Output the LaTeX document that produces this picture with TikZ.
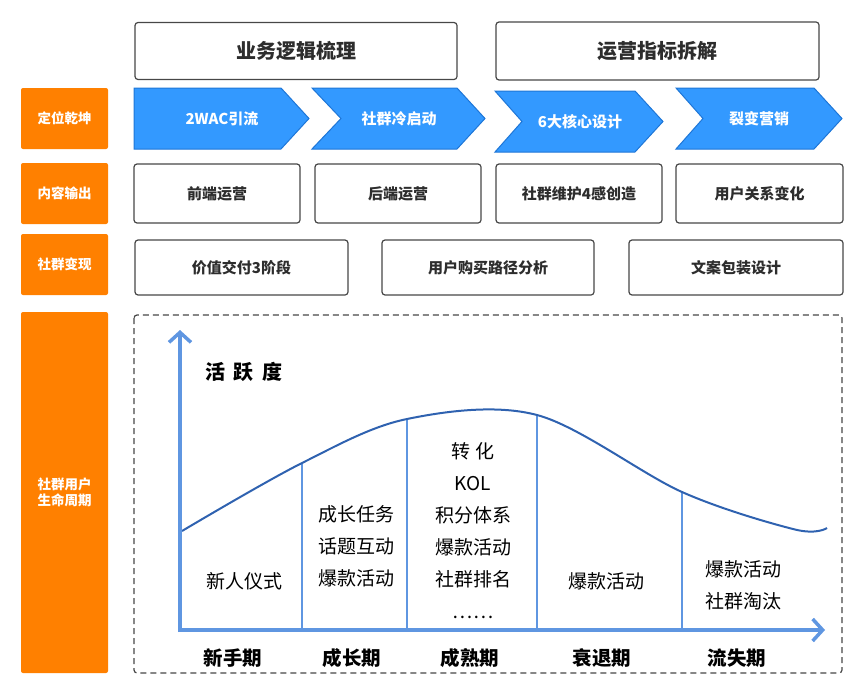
\documentclass[tikz,border=0pt]{standalone}
\usepackage{fontspec}
\setmainfont{Noto Sans CJK SC}
\usetikzlibrary{arrows.meta}
\definecolor{orng}{RGB}{255,128,0}
\definecolor{chev}{RGB}{51,153,255}
\definecolor{chevline}{RGB}{30,118,215}
\definecolor{axisblue}{RGB}{95,150,225}
\definecolor{curveblue}{RGB}{47,98,176}
\definecolor{txt}{RGB}{45,45,45}

\begin{document}
\begin{tikzpicture}[x=1pt,y=-1pt,
    tag/.style={fill=orng,rounded corners=2pt,inner sep=0pt,text=white,align=center,
      font=\bfseries\fontsize{13.5}{16.5}\selectfont},
    box/.style={draw=black!72,line width=1.2pt,rounded corners=3pt,inner sep=0pt,text=txt,
      font=\bfseries\fontsize{15}{18}\selectfont},
    head/.style={box,font=\bfseries\fontsize{20}{24}\selectfont},
    phase/.style={font=\bfseries\fontsize{19.5}{24}\selectfont},
    task/.style={align=center,font=\fontsize{19}{32}\selectfont},
    axis/.style={axisblue,line width=4pt,-{Straight Barb[length=10pt,width=22pt,line width=3.5pt]}}]
  \useasboundingbox (0,0) rectangle (865,696);
  \node[head,minimum width=322pt,minimum height=57pt] (logic) at (296,51) {业务逻辑梳理};
  \node[head,minimum width=323pt,minimum height=58pt] (kpi) at (657.5,51) {运营指标拆解};
  \node[tag,minimum width=87pt,minimum height=61pt] (t1) at (64.5,118.5) {定位乾坤};
  \node[tag,minimum width=87pt,minimum height=61pt] (t2) at (64.5,193.5) {内容输出};
  \node[tag,minimum width=87pt,minimum height=61pt] (t3) at (64.5,264.5) {社群变现};
  \node[tag,minimum width=87pt,minimum height=361pt] (t4) at (64.5,492.5) {社群用户\\生命周期};
  \foreach \l/\n/\s/\dy/\c/\t/\nm in {134/134/281/0/222/2WAC引流/c1,312/341/457/0/399/社群冷启动/c2,
      495/522/635/3/580/6大核心设计/c3,676/703/814/0/759/裂变营销/c4}{
    \draw[fill=chev,draw=chevline,line width=1pt] (\l,88+\dy) -- (\s,88+\dy) -- (\s+28,118.5+\dy)
      -- (\s,149+\dy) -- (\l,149+\dy) -- (\n,118.5+\dy) -- cycle;
    \node[text=white,font=\bfseries\fontsize{15}{18}\selectfont] (\nm) at (\c,119+\dy) {\t};
  }
  \node[box,minimum width=166pt,minimum height=59pt] (b1) at (217,193.5) {前端运营};
  \node[box,minimum width=166pt,minimum height=59pt] (b2) at (398,193.5) {后端运营};
  \node[box,minimum width=166pt,minimum height=59pt] (b3) at (579,193.5) {社群维护4感创造};
  \node[box,minimum width=167pt,minimum height=59pt] (b4) at (759.5,193.5) {用户关系变化};
  \node[box,minimum width=213pt,minimum height=55pt] (v1) at (241.5,267.5) {价值交付3阶段};
  \node[box,minimum width=212pt,minimum height=55pt] (v2) at (488,267.5) {用户购买路径分析};
  \node[box,minimum width=214pt,minimum height=55pt] (v3) at (736,267.5) {文案包装设计};
  \draw[black!72,line width=1.2pt,dash pattern=on 6pt off 4pt,rounded corners=3pt] (134,315) rectangle (842,673);
  \coordinate (p1) at (302,463);
  \coordinate (p2) at (407,419);
  \coordinate (p3) at (537,415);
  \coordinate (p4) at (682,492);
  \foreach \p in {p1,p2,p3,p4}
    \draw[axisblue,line width=2.2pt] (\p) -- (\p |- 0,630);
  \draw[curveblue,line width=2pt] plot[smooth,tension=0.55] coordinates
    {(182,531) (p1) (p2) (p3) (p4) (795,529.5) (827,528)};
  \draw[axis] (180,632) -- (180,330);
  \draw[axis] (178,630) -- (825,630);
  \node[font=\bfseries\fontsize{20}{24}\selectfont] (act) at (244,372) {活\hspace{0.45em}跃\hspace{0.45em}度};
  \node[task] (k1) at (244,581) {新人仪式};
  \node[task] (k2) at (356,546) {成长任务\\话题互动\\爆款活动};
  \node[task] (k3) at (473,531) {转 化\\KOL\\积分体系\\爆款活动\\社群排名\\……};
  \node[task] (k4) at (606,581) {爆款活动};
  \node[task] (k5) at (743,585) {爆款活动\\社群淘汰};
  \node[phase] (s1) at (233,658) {新手期};
  \node[phase] (s2) at (352,658) {成长期};
  \node[phase] (s3) at (470,658) {成熟期};
  \node[phase] (s4) at (602,658) {衰退期};
  \node[phase] (s5) at (737,658) {流失期};
\end{tikzpicture}
\end{document}
